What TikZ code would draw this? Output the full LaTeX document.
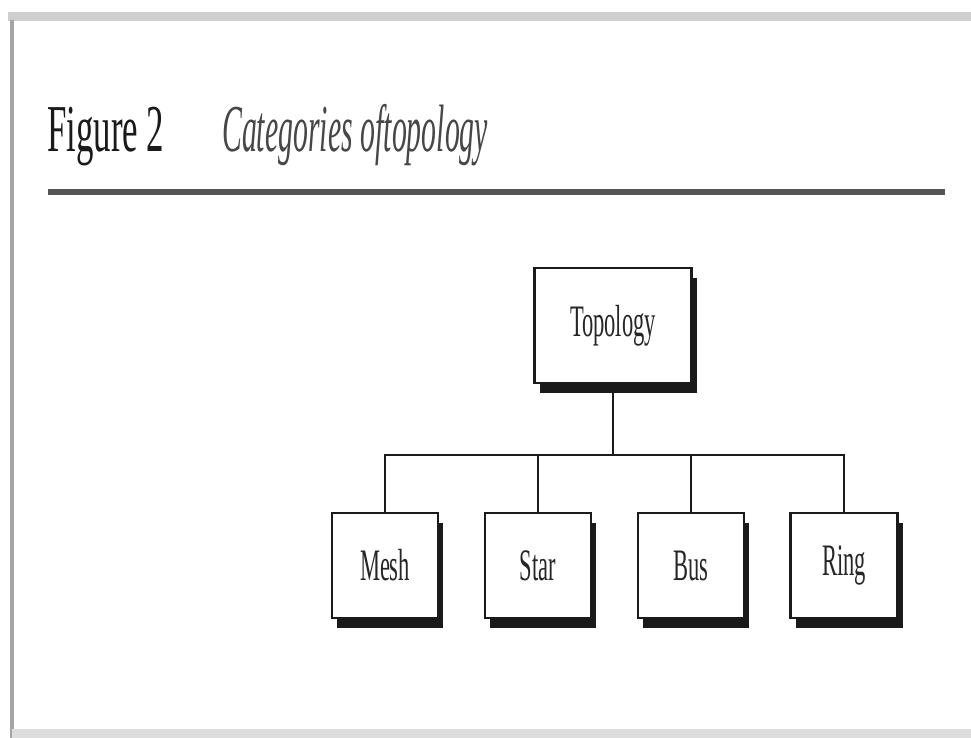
\documentclass[tikz,border=0pt]{standalone}
\usepackage{fontspec}
\setmainfont{Liberation Serif}
\usetikzlibrary{shadows}
\definecolor{ink}{HTML}{1A1A1A}
\definecolor{txt}{HTML}{262626}
\definecolor{frame}{HTML}{CFCFCF}
\definecolor{rule}{HTML}{555555}
\tikzset{
  catbox/.style={draw=ink, line width=2.8pt, fill=white, rectangle,
    inner sep=0pt, outer sep=0pt, text=txt,
    general shadow={fill=ink, shadow xshift=5pt, shadow yshift=-10pt}},
  link/.style={draw=ink, line width=2.6pt},
}
% text set tall and narrow
\newcommand{\narrow}[2]{\scalebox{#1}[1]{#2}}
\begin{document}
\begin{tikzpicture}[x=1pt, y=-1pt]
\useasboundingbox (0,0) rectangle (971,738);
\fill[white] (0,0) rectangle (971,738);

% page frame
\draw[frame, line width=9pt] (8,17) -- (971,17);
\draw[frame!80!black, line width=4pt] (12,20) -- (12,738);
\draw[frame!70!white, line width=9pt] (12,733) -- (971,733);

% caption and rule
\node[anchor=base west, inner sep=0pt, text=ink] (fig) at (47,152)
  {\narrow{0.52}{\fontsize{67}{67}\selectfont Figure 2}};
\node[anchor=base west, inner sep=0pt, text=txt!85!white] (cap) at (222,152)
  {\narrow{0.445}{\fontsize{67}{67}\selectfont\itshape Categories oftopology}};
\draw[rule, line width=6pt] (48,192) -- (945,192);

% hierarchy
\node[catbox, minimum width=157pt, minimum height=115pt] (top) at (613,325.5)
  {\narrow{0.5}{\fontsize{45}{45}\selectfont Topology}};
\node[catbox, minimum width=106pt, minimum height=105pt] (mesh) at (385,565.5)
  {\narrow{0.5}{\fontsize{45}{45}\selectfont Mesh}};
\node[catbox, minimum width=106pt, minimum height=105pt] (star) at (538,565.5)
  {\narrow{0.5}{\fontsize{45}{45}\selectfont Star}};
\node[catbox, minimum width=106pt, minimum height=105pt] (bus) at (691,565.5)
  {\narrow{0.5}{\fontsize{45}{45}\selectfont Bus}};
\node[catbox, minimum width=107pt, minimum height=105pt] (ring) at (844,565.5)
  {\narrow{0.5}{\fontsize{45}{45}\selectfont Ring}};

\coordinate (hub) at (613,455);
\draw[link] (top.south) ++(0,10) -- (hub);
\draw[link] (mesh.north) |- (hub) -| (ring.north);
\draw[link] (star.north) -- (star.north |- hub);
\draw[link] (bus.north) -- (bus.north |- hub);
\end{tikzpicture}
\end{document}
